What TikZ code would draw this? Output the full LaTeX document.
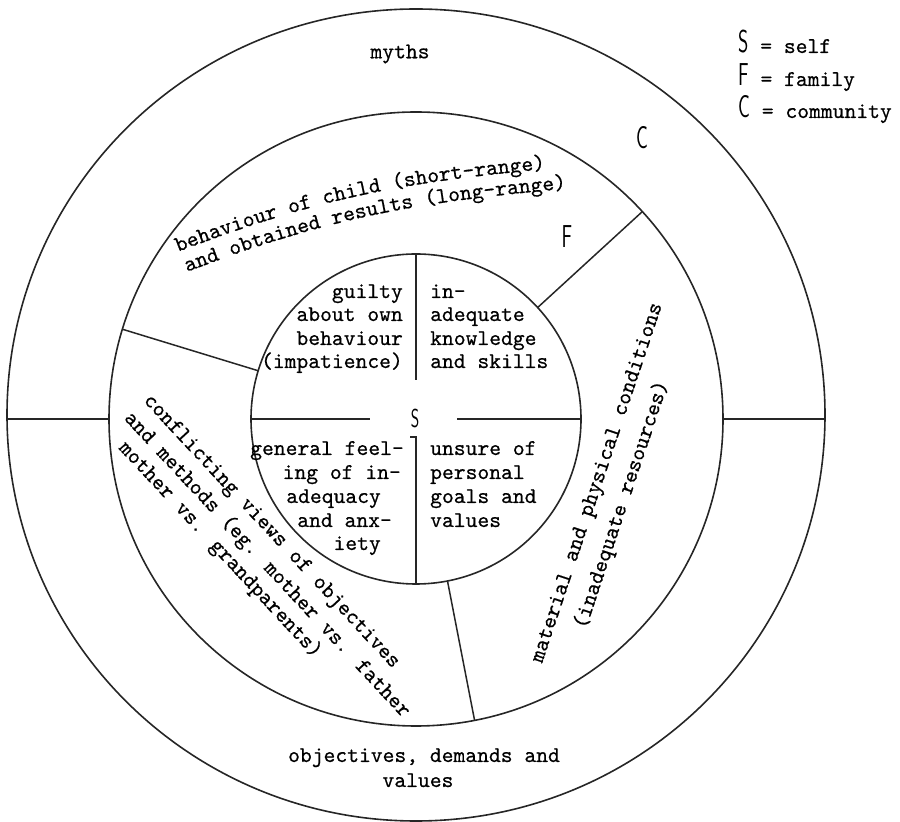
\documentclass[tikz,border=0pt]{standalone}
\usepackage{fontspec}
\usepackage{graphicx}
\usetikzlibrary{calc,decorations.text}

% typewriter text (slightly emboldened) and the condensed capitals S, F, C
\newfontfamily\twfont[FakeBold=0.6]{lmmono10-regular.otf}
\newcommand\tw{\twfont\fontsize{22.5}{24}\selectfont}
\newcommand\capl[2]{\scalebox{0.62}[1]{\sffamily\fontsize{#1}{#1}\selectfont #2}}

\tikzset{
  ring/.style={line width=1.6pt, draw=black!85},
  divider/.style={line width=1.5pt, draw=black!85},
  tt/.style={font=\tw, inner sep=0pt},
  ttr/.style={tt, anchor=base east},
  ttl/.style={tt, anchor=base west},
  arctext/.style={decorate, decoration={text along path, text align=left, text={|\tw|#1}}},
}

\begin{document}
\begin{tikzpicture}[x=1pt,y=1pt]
\useasboundingbox (0,0) rectangle (900,822);
\coordinate (O) at (416,403);

% three rings: community, family, self
\draw[ring] (416,407) ellipse [x radius=409, y radius=406];
\draw[ring] (O) circle [radius=307];
\draw[ring] (O) circle [radius=165];

% community ring dividers
\draw[divider] ($(O)+(180:307)$) -- ($(O)+(180:409)$);
\draw[divider] ($(O)+(0:307)$) -- ($(O)+(0:409)$);

% family ring dividers
\foreach \a in {163,42.5,-79}
  \draw[divider] ($(O)+(\a:165)$) -- ($(O)+(\a:307)$);

% self circle dividers
\draw[divider] ($(O)+(90:165)$) -- (416,442);
\draw[divider] ($(O)+(180:165)$) -- (370,403);
\draw[divider] (457,403) -- ($(O)+(0:165)$);
\draw[divider] (410,385) -| ($(O)+(-90:165)$);

% letters
\node[inner sep=0pt] (lblS) at (415,404) {\capl{26}{S}};
\node[inner sep=0pt] (lblF) at (567,585) {\capl{31.7}{F}};
\node[inner sep=0pt] (lblC) at (642,684) {\capl{31.7}{C}};

% legend
\node[ttl] (legS) at (738,769) {\capl{31.7}{S}\ = self};
\node[ttl] (legF) at (738,736) {\capl{31.7}{F}\ = family};
\node[ttl] (legC) at (738,704) {\capl{31.7}{C}\ = community};

% community ring
\node[tt] (myths) at (400,768) {myths};
\node[tt, anchor=base] (obj1) at (424,60) {objectives, demands and};
\node[tt, anchor=base] (obj2) at (418,35) {values};

% self quadrants
\node[ttr] (g1) at (403,524) {guilty};
\node[ttr] (g2) at (403,501) {about own};
\node[ttr] (g3) at (403,477) {behaviour};
\node[ttr] (g4) at (403,454) {(impatience)};

\node[ttl] (k1) at (430,524) {in-};
\node[ttl] (k2) at (430,501) {adequate};
\node[ttl] (k3) at (430,477) {knowledge};
\node[ttl] (k4) at (430,454) {and skills};

\node[ttr] (a1) at (404,367) {general feel-};
\node[ttr] (a2) at (401,343) {ing of in-};
\node[ttr] (a3) at (381,319) {adequacy};
\node[ttr] (a4) at (392,295) {and anx-};
\node[ttr] (a5) at (381,272) {iety};

\node[ttl] (u1) at (430,367) {unsure of};
\node[ttl] (u2) at (430,343) {personal};
\node[ttl] (u3) at (430,319) {goals and};
\node[ttl] (u4) at (430,295) {values};

% family ring
\path[arctext={behaviour of child (short-range)}] (178,570) to[out=21,in=185] (560,654);
\path[arctext={and obtained results (long-range)}] (187,550) to[out=21,in=185] (576,634);

\node[tt, rotate=-47] (cv1) at (271,290) {conflicting views of objectives};
\node[tt, rotate=-47] (cv2) at (267,257) {and methods (eg. mother vs. father};
\node[tt, rotate=-47] (cv3) at (220,272) {mother vs. grandparents)};

\node[tt, rotate=71.5] (mp1) at (598,339) {material and physical conditions};
\node[tt, rotate=71.5] (mp2) at (622,317) {(inadequate resources)};
\end{tikzpicture}
\end{document}
